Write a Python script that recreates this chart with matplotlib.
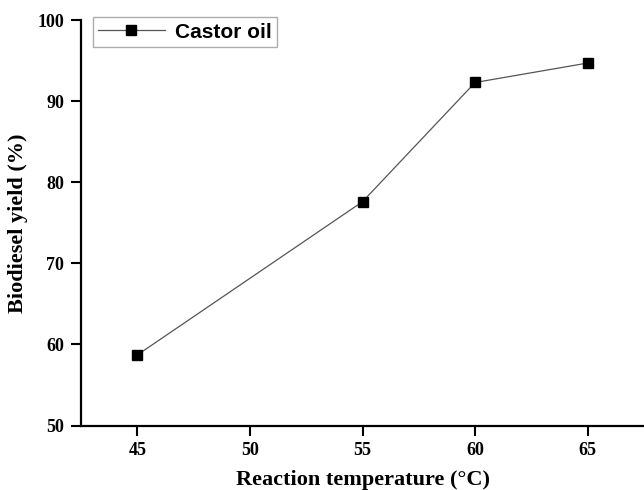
import matplotlib.pyplot as plt

# Biodiesel yield vs reaction temperature
temperature = [45, 55, 60, 65]
yield_pct = [58.7, 77.6, 92.3, 94.7]
x_ticks = [45, 50, 55, 60, 65]
y_ticks = [50, 60, 70, 80, 90, 100]

serif = ['Liberation Serif', 'DejaVu Serif']

fig = plt.figure(figsize=(6.44, 4.90), dpi=100)
ax = fig.add_axes([0.1258, 0.1316, 0.8742, 0.8275])

ax.plot(temperature, yield_pct, color='#555555', linewidth=0.9,
        marker='s', markersize=7.5, markerfacecolor='black',
        markeredgecolor='black', label='Castor oil')

ax.set_xlim(42.5, 67.5)
ax.set_ylim(50, 100)
ax.set_xticks(x_ticks)
ax.set_yticks(y_ticks)

for side in ['top', 'right']:
    ax.spines[side].set_visible(False)
for side in ['left', 'bottom']:
    ax.spines[side].set_linewidth(1.6)

ax.tick_params(direction='out', length=7, width=1.5, pad=5)
for lbl in ax.get_xticklabels() + ax.get_yticklabels():
    lbl.set_fontfamily(serif)
    lbl.set_fontweight('bold')
    lbl.set_fontsize(13)

ax.set_xlabel('Reaction temperature (°C)', family=serif, fontweight='bold',
              fontsize=16, labelpad=8)
ax.set_ylabel('Biodiesel yield (%)', family=serif, fontweight='bold',
              fontsize=16, labelpad=7)

leg = ax.legend(loc='upper left', bbox_to_anchor=(92.7 / 644, 1 - 17.3 / 490),
                bbox_transform=fig.transFigure, borderaxespad=0,
                frameon=True, fancybox=False, handlelength=3.2,
                prop={'family': 'Liberation Sans', 'weight': 'bold', 'size': 15},
                borderpad=0.25, handletextpad=0.5)
leg.get_frame().set_edgecolor('#999999')
leg.get_frame().set_linewidth(1.0)

fig.savefig('out.png', dpi=100)
